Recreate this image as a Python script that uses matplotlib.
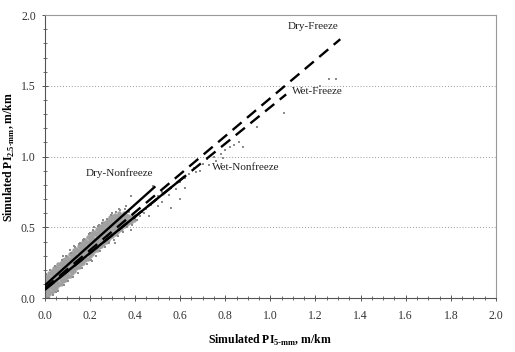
import matplotlib
matplotlib.use("Agg")
import matplotlib.pyplot as plt
from matplotlib.ticker import MultipleLocator

# ============ DATA ============

# dense cloud of simulated points: one x per column, several y values each
CLOUD_X = [0.000, 0.010, 0.020, 0.030, 0.040, 0.050, 0.060, 0.070, 0.080, 0.090,
           0.100, 0.110, 0.120, 0.130, 0.140, 0.150, 0.160, 0.170, 0.180, 0.190,
           0.200, 0.210, 0.220, 0.230, 0.240, 0.250, 0.260, 0.270, 0.280, 0.290,
           0.300, 0.310, 0.320, 0.330, 0.340, 0.350, 0.360, 0.370, 0.380, 0.395]
CLOUD_Y = [
    [0.00, 0.02, 0.05, 0.07, 0.10, 0.12, 0.15],
    [0.01, 0.04, 0.06, 0.09, 0.11, 0.14, 0.16],
    [0.03, 0.05, 0.08, 0.10, 0.13, 0.15, 0.18],
    [0.04, 0.07, 0.09, 0.12, 0.14, 0.17, 0.19],
    [0.06, 0.08, 0.11, 0.13, 0.16, 0.18, 0.21],
    [0.07, 0.10, 0.12, 0.15, 0.17, 0.20, 0.22],
    [0.09, 0.11, 0.14, 0.16, 0.19, 0.21, 0.24],
    [0.10, 0.13, 0.15, 0.18, 0.20, 0.23, 0.25],
    [0.12, 0.14, 0.17, 0.19, 0.22, 0.24, 0.27],
    [0.13, 0.16, 0.18, 0.21, 0.23, 0.26, 0.28],
    [0.15, 0.17, 0.20, 0.22, 0.25, 0.27, 0.29],
    [0.16, 0.19, 0.21, 0.24, 0.26, 0.28, 0.31],
    [0.18, 0.20, 0.23, 0.25, 0.28, 0.30, 0.32],
    [0.19, 0.22, 0.24, 0.27, 0.29, 0.31, 0.34],
    [0.21, 0.23, 0.26, 0.28, 0.30, 0.33, 0.35],
    [0.22, 0.25, 0.27, 0.30, 0.32, 0.34, 0.37],
    [0.24, 0.26, 0.29, 0.31, 0.33, 0.36, 0.38],
    [0.25, 0.28, 0.30, 0.33, 0.35, 0.37, 0.40],
    [0.27, 0.29, 0.32, 0.34, 0.36, 0.39, 0.41],
    [0.28, 0.31, 0.33, 0.35, 0.38, 0.40, 0.43],
    [0.30, 0.32, 0.35, 0.37, 0.39, 0.42, 0.44],
    [0.31, 0.34, 0.36, 0.38, 0.41, 0.43, 0.46],
    [0.33, 0.35, 0.37, 0.40, 0.42, 0.45, 0.47],
    [0.34, 0.37, 0.39, 0.41, 0.44, 0.46, 0.49],
    [0.36, 0.38, 0.40, 0.43, 0.45, 0.48, 0.50],
    [0.37, 0.39, 0.42, 0.44, 0.47, 0.49, 0.51],
    [0.38, 0.41, 0.43, 0.46, 0.48, 0.50, 0.53],
    [0.40, 0.42, 0.45, 0.47, 0.49, 0.52, 0.54],
    [0.41, 0.44, 0.46, 0.48, 0.51, 0.53, 0.55],
    [0.43, 0.45, 0.47, 0.50, 0.52, 0.54, 0.57],
    [0.44, 0.46, 0.49, 0.51, 0.53, 0.56, 0.58],
    [0.45, 0.48, 0.50, 0.52, 0.55, 0.57, 0.59],
    [0.47, 0.49, 0.51, 0.54, 0.56, 0.58],
    [0.48, 0.50, 0.53, 0.55, 0.57, 0.60],
    [0.49, 0.52, 0.54, 0.56, 0.59],
    [0.51, 0.53, 0.55, 0.58, 0.60],
    [0.52, 0.54, 0.57, 0.59],
    [0.53, 0.55, 0.58],
    [0.54, 0.57],
    [0.55, 0.58],
]

# scattered points outside the dense cloud
SPARSE_X = [0.005, 0.015, 0.025, 0.035, 0.045, 0.06, 0.075, 0.085, 0.095, 0.105,
            0.115, 0.125, 0.135, 0.145, 0.155, 0.165, 0.175, 0.185, 0.195, 0.205,
            0.215, 0.225, 0.235, 0.245, 0.255, 0.265, 0.275, 0.285, 0.295, 0.305,
            0.315, 0.325, 0.335, 0.345, 0.355, 0.365, 0.375, 0.385,
            0.02, 0.05, 0.08, 0.11, 0.13, 0.15, 0.17, 0.20, 0.22, 0.24,
            0.26, 0.30, 0.33, 0.36, 0.38, 0.40, 0.42, 0.43, 0.45, 0.47,
            0.48, 0.50, 0.52, 0.55, 0.56, 0.58, 0.60, 0.62, 0.62, 0.64,
            0.66, 0.67, 0.69, 0.70, 0.72, 0.73, 0.75, 0.76, 0.78, 0.79,
            0.80, 0.82, 0.84, 0.86, 0.88, 0.94, 0.60, 0.52, 0.56, 0.38,
            1.06, 1.22, 1.26, 1.29, 0.21, 0.31, 0.41, 0.44, 0.46, 0.50]
SPARSE_Y = [0.17, 0.00, 0.20, 0.02, 0.23, 0.05, 0.27, 0.09, 0.30, 0.12,
            0.32, 0.15, 0.36, 0.18, 0.39, 0.21, 0.42, 0.24, 0.45, 0.27,
            0.48, 0.30, 0.51, 0.33, 0.53, 0.36, 0.56, 0.39, 0.59, 0.41,
            0.61, 0.44, 0.62, 0.47, 0.63, 0.50, 0.61, 0.52,
            0.00, 0.04, 0.30, 0.34, 0.37, 0.38, 0.41, 0.46, 0.50, 0.52,
            0.55, 0.60, 0.63, 0.65, 0.72, 0.56, 0.58, 0.61, 0.63, 0.66,
            0.79, 0.72, 0.75, 0.73, 0.78, 0.77, 0.82, 0.85, 0.78, 0.88,
            0.92, 0.89, 0.90, 0.95, 0.98, 0.94, 1.00, 0.97, 1.02, 0.99,
            1.05, 1.07, 1.08, 1.10, 1.07, 1.21, 0.70, 0.68, 0.64, 0.48,
            1.31, 1.50, 1.55, 1.55, 0.26, 0.39, 0.55, 0.60, 0.58, 0.65]

# regression lines: start and end points
LINE_NAMES = ["Dry-Nonfreeze", "Wet-Nonfreeze", "Dry-Freeze", "Wet-Freeze"]
LINE_X = [[0.0, 0.49], [0.0, 0.62], [0.0, 1.31], [0.0, 1.07]]
LINE_Y = [[0.09, 0.79], [0.06, 0.86], [0.07, 1.83], [0.06, 1.44]]

# label positions for each group
LABEL_X = [0.33, 0.89, 1.19, 1.21]
LABEL_Y = [0.88, 0.92, 1.92, 1.46]

# ======================================

plt.rcParams["font.family"] = ["Liberation Serif", "DejaVu Serif"]

fig = plt.figure(figsize=(5.15, 3.52), dpi=100)
ax = fig.add_axes([0.087, 0.153, 0.876, 0.804])

cx, cy = [], []
for x, ys in zip(CLOUD_X, CLOUD_Y):
    for y in ys:
        cx.append(x)
        cy.append(y)
ax.scatter(cx, cy, s=10, color="#a0a0a0", marker="o", linewidths=0, zorder=2)
ax.scatter(SPARSE_X, SPARSE_Y, s=3, color="#8c8c8c", marker="s", linewidths=0, zorder=2)

for name, xs, ys in zip(LINE_NAMES, LINE_X, LINE_Y):
    if "Nonfreeze" in name:
        ax.plot(xs, ys, color="black", lw=1.7, solid_capstyle="butt", zorder=3)
    else:
        ax.plot(xs, ys, color="black", lw=1.7, dashes=(5, 3), dash_capstyle="butt", zorder=3)

for name, x, y in zip(LINE_NAMES, LABEL_X, LABEL_Y):
    ax.text(x, y, name, fontsize=8, ha="center", va="center", color="#222222")

ax.set_xlim(0, 2.0)
ax.set_ylim(0, 2.0)
ax.xaxis.set_major_locator(MultipleLocator(0.2))
ax.xaxis.set_minor_locator(MultipleLocator(0.05))
ax.yaxis.set_major_locator(MultipleLocator(0.5))
ax.yaxis.set_minor_locator(MultipleLocator(0.1))
ax.xaxis.set_major_formatter(plt.FormatStrFormatter("%.1f"))
ax.yaxis.set_major_formatter(plt.FormatStrFormatter("%.1f"))
ax.tick_params(which="both", direction="inout", colors="#555555", labelcolor="#333333", labelsize=8.5)
ax.tick_params(which="major", length=5, width=0.7)
ax.tick_params(which="minor", length=3, width=0.6)
ax.tick_params(axis="x", pad=6)
ax.tick_params(axis="y", pad=4)

ax.grid(axis="y", which="major", linestyle=(0, (1, 2)), color="#999999", lw=0.7)
for side in ["top", "right"]:
    ax.spines[side].set_color("#999999")
    ax.spines[side].set_linewidth(0.8)
for side in ["left", "bottom"]:
    ax.spines[side].set_color("#555555")
    ax.spines[side].set_linewidth(0.8)

ax.set_xlabel(r"Simulated PI$_{\mathregular{5\text{-}mm}}$, m/km", fontsize=8.5, fontweight="bold", labelpad=8)
ax.set_ylabel(r"Simulated PI$_{\mathregular{2.5\text{-}mm}}$, m/km", fontsize=8.5, fontweight="bold", labelpad=3)

fig.savefig("out.png", dpi=100)
